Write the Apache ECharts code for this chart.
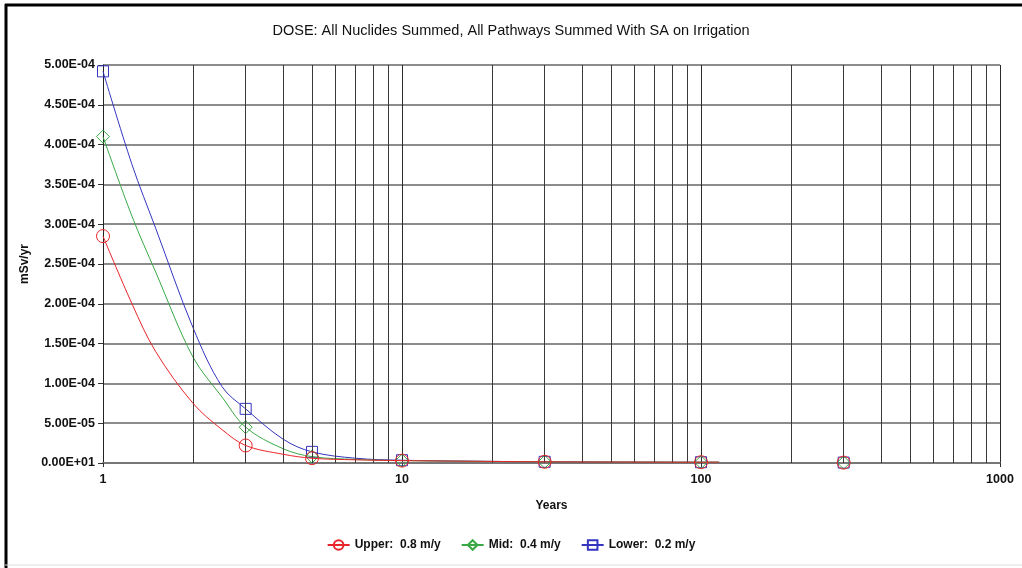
<!DOCTYPE html>
<html>
<head>
<meta charset="utf-8">
<script src="https://cdn.jsdelivr.net/npm/echarts@6/dist/echarts.min.js"></script>
<style>
  html, body { margin: 0; padding: 0; background: #fff; }
  #chart { width: 1022px; height: 568px; }
</style>
</head>
<body>
<div id="chart"></div>
<script>
// Years sampled along each dose curve
const curveYears = [1, 1.25, 1.5, 2, 2.5, 3, 4, 5, 7, 10, 20, 30, 50, 100, 115];
// Dose (mSv/yr) for each sorption case along the curve
const upperDose = [2.85e-4, 2.0e-4, 1.4e-4, 7.5e-5, 4.2e-5, 2.2e-5, 1.1e-5, 6e-6, 4e-6, 3e-6, 2e-6, 1.5e-6, 1.2e-6, 1e-6, 1e-6];
const midDose   = [4.1e-4, 3.1e-4, 2.4e-4, 1.33e-4, 8.3e-5, 4.5e-5, 1.8e-5, 8e-6, 4.5e-6, 3e-6, 2e-6, 1.5e-6, 1.2e-6, 1e-6, 1e-6];
const lowerDose = [4.92e-4, 3.75e-4, 2.95e-4, 1.7e-4, 9.6e-5, 6.8e-5, 3e-5, 1.4e-5, 6e-6, 3.5e-6, 2e-6, 1.5e-6, 1.2e-6, 1e-6, 1e-6];
// Output times that carry a marker
const markYears = [1, 3, 5, 10, 30, 100, 300];
// Late-time markers beyond the end of the curves
const lateYear = 300;
const upperLate = 5e-7;
const midLate = 5e-7;
const lowerLate = 5e-7;
// Legend labels
const seriesNames = ['Upper:  0.8 m/y', 'Mid:  0.4 m/y', 'Lower:  0.2 m/y'];
// Log-scale intermediate grid lines
const minorYears = [2, 3, 4, 5, 6, 7, 8, 9, 20, 30, 40, 50, 60, 70, 80, 90, 200, 300, 400, 500, 600, 700, 800, 900];

const colors = ['#e8262a', '#3aa845', '#3535c0'];
const symbols = ['circle', 'diamond', 'rect'];
const symbolSizes = [13, 13, 11];

function fmtExp(v) {
  if (Math.abs(v) < 1e-12) return '0.00E+01';
  const s = v.toExponential(2).toUpperCase();
  const parts = s.split('E');
  const sign = parts[1][0] === '-' ? '-' : '+';
  let e = parts[1].replace(/^[+-]/, '');
  if (e.length < 2) e = '0' + e;
  return parts[0] + 'E' + sign + e;
}

function curveData(values) {
  return curveYears.map((x, i) => {
    const item = { value: [x, values[i]] };
    if (markYears.indexOf(x) < 0) item.symbol = 'none';
    return item;
  });
}

const curves = [upperDose, midDose, lowerDose];
const lates = [upperLate, midLate, lowerLate];

// hollow markers: transparent fill, coloured outline
function markerStyle(k) {
  return { color: 'rgba(0,0,0,0)', borderColor: colors[k], borderWidth: 1 };
}

const series = [];
// drawn lower -> mid -> upper so the red markers sit on top
[2, 1, 0].forEach((k) => {
  series.push({
    name: seriesNames[k],
    type: 'line',
    smooth: 0.35,
    data: curveData(curves[k]),
    symbol: symbols[k],
    symbolSize: symbolSizes[k],
    showAllSymbol: true,
    clip: true,
    lineStyle: { color: colors[k], width: 1 },
    itemStyle: markerStyle(k),
    z: 3 + (2 - k)
  });
  series.push({
    name: seriesNames[k],
    type: 'line',
    data: [[lateYear, lates[k]]],
    symbol: symbols[k],
    symbolSize: symbolSizes[k],
    lineStyle: { color: colors[k], width: 1 },
    itemStyle: markerStyle(k),
    z: 3 + (2 - k)
  });
});
// intermediate vertical grid lines at 2..9 of each decade
series.push({
  name: 'grid',
  type: 'line',
  data: [],
  silent: true,
  markLine: {
    silent: true,
    symbol: 'none',
    label: { show: false },
    lineStyle: { color: '#3a3a3a', width: 1, type: 'solid' },
    data: minorYears.map(x => ({ xAxis: x }))
  },
  z: 1
});

const chart = echarts.init(document.getElementById('chart'));
chart.setOption({
  animation: false,
  backgroundColor: '#ffffff',
  textStyle: { fontFamily: 'Liberation Sans, Arial, sans-serif' },
  title: {
    text: 'DOSE: All Nuclides Summed, All Pathways Summed With SA on Irrigation',
    left: 'center',
    top: 18,
    textStyle: { fontSize: 14.5, fontWeight: 'normal', color: '#111', fontFamily: 'Liberation Sans, Arial, sans-serif' }
  },
  legend: {
    data: seriesNames,
    bottom: 12,
    left: 'center',
    itemWidth: 22,
    itemHeight: 12,
    itemGap: 20,
    textStyle: { fontSize: 12, fontWeight: 'bold', color: '#111' }
  },
  grid: { left: 103, right: 22, top: 65, bottom: 105, containLabel: false },
  xAxis: {
    type: 'log',
    logBase: 10,
    min: 1,
    max: 1000,
    name: 'Years',
    nameLocation: 'middle',
    nameGap: 37,
    nameTextStyle: { fontSize: 12, fontWeight: 'bold', color: '#111' },
    axisLine: { show: true, lineStyle: { color: '#777', width: 2 } },
    axisTick: { show: true, length: 4, lineStyle: { color: '#333' } },
    axisLabel: { fontSize: 12.5, fontWeight: 'bold', color: '#111', margin: 10, formatter: (v) => String(Math.round(v)) },
    splitLine: { show: true, lineStyle: { color: '#2a2a2a', width: 1 } },
    minorTick: { show: false },
    minorSplitLine: { show: false }
  },
  yAxis: {
    type: 'value',
    min: 0,
    max: 5e-4,
    interval: 5e-5,
    name: 'mSv/yr',
    nameLocation: 'middle',
    nameGap: 67,
    nameRotate: 90,
    nameTextStyle: { fontSize: 12, fontWeight: 'bold', color: '#111' },
    axisLine: { show: true, lineStyle: { color: '#222', width: 1 } },
    axisTick: { show: true, length: 5, lineStyle: { color: '#333' } },
    axisLabel: { fontSize: 12.5, fontWeight: 'bold', color: '#111', margin: 8, formatter: fmtExp },
    splitLine: { show: true, lineStyle: { color: '#666', width: 1.5 } }
  },
  graphic: [
    { type: 'line', shape: { x1: 6, y1: 4, x2: 6, y2: 568 }, style: { stroke: '#000', lineWidth: 3 } },
    { type: 'line', shape: { x1: 5, y1: 5, x2: 1022, y2: 5 }, style: { stroke: '#000', lineWidth: 3 } },
    { type: 'line', shape: { x1: 5, y1: 565, x2: 1022, y2: 565 }, style: { stroke: '#ddd', lineWidth: 1 } }
  ],
  series: series
});
</script>
</body>
</html>
